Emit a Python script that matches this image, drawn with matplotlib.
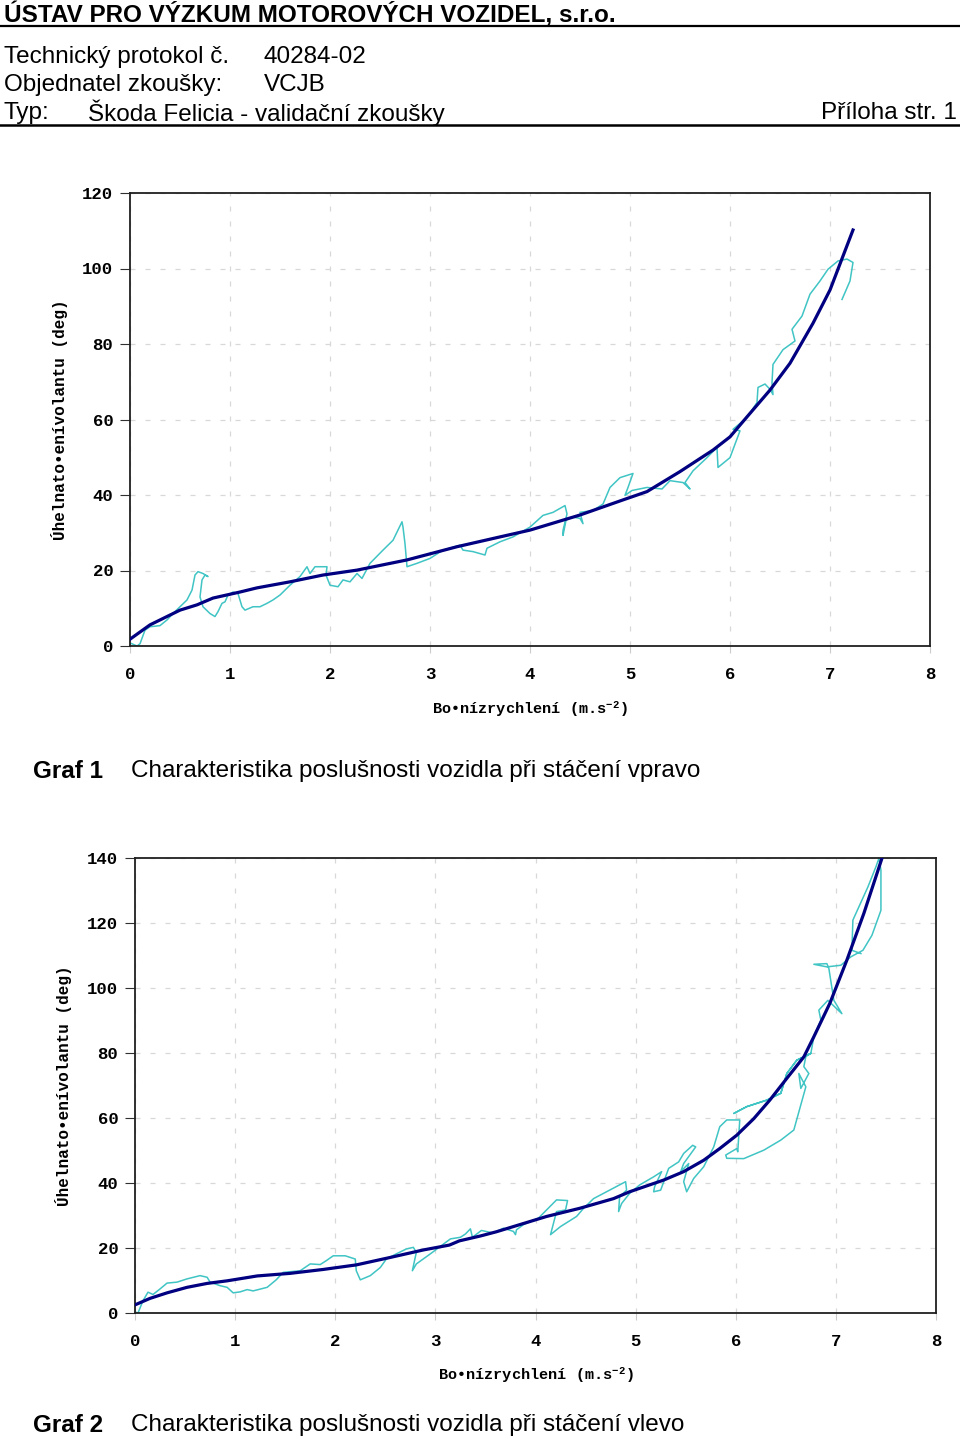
import numpy as np
import matplotlib.pyplot as plt
from matplotlib.lines import Line2D

# --- Graf 1 (vpravo): fitted curve
fit1_x = [0.0, 0.2, 0.5, 0.67, 0.83, 1.1, 1.27, 1.6, 1.93, 2.27, 2.77, 3.27, 3.7, 4.0, 4.5,
          4.93, 5.17, 5.5, 5.83, 6.0, 6.17, 6.4, 6.6, 6.83, 7.0, 7.23]
fit1_y = [1.8, 5.6, 9.5, 10.9, 12.7, 14.3, 15.4, 17.0, 18.8, 20.1, 22.8, 26.3, 28.9, 30.7, 34.7,
          38.7, 40.9, 46.2, 51.9, 55.4, 60.7, 67.8, 74.9, 85.5, 94.3, 110.2]

# --- Graf 1: measured
meas1_x = [0.01, 0.07, 0.1, 0.15, 0.2, 0.3, 0.37, 0.43, 0.5, 0.57, 0.62, 0.65, 0.68, 0.73, 0.78,
           0.75, 0.72, 0.70, 0.73, 0.8, 0.85, 0.88, 0.92, 0.95, 0.98, 1.03, 1.08, 1.12, 1.15,
           1.23, 1.3, 1.37, 1.43, 1.5, 1.6, 1.7, 1.77, 1.8, 1.85, 1.93, 1.97, 1.96, 2.0, 2.08,
           2.13, 2.2, 2.27, 2.32, 2.4, 2.53, 2.63, 2.72, 2.73, 2.75, 2.77, 2.87, 3.0, 3.13, 3.3,
           3.33, 3.43, 3.55, 3.57, 3.7, 3.83, 4.0, 4.13, 4.23, 4.35, 4.37, 4.33, 4.33, 4.36,
           4.42, 4.5, 4.53, 4.5, 4.63, 4.73, 4.8, 4.9, 5.03, 4.98, 4.95, 5.02, 5.17, 5.32, 5.4,
           5.53, 5.6, 5.55, 5.63, 5.77, 5.87, 5.88, 6.0, 6.1, 6.03, 6.17, 6.27, 6.28, 6.35, 6.4,
           6.43, 6.42, 6.43, 6.53, 6.65, 6.62, 6.72, 6.8, 6.9, 6.98, 7.08, 7.17, 7.23, 7.2, 7.12]
meas1_y = [0.7, 0.0, 0.6, 4.2, 5.1, 5.4, 6.9, 8.6, 10.4, 12.2, 14.8, 18.8, 19.7, 19.2, 18.4,
           18.8, 17.5, 13.0, 10.4, 8.6, 7.8, 9.1, 11.3, 11.7, 13.5, 14.3, 13.9, 10.4, 9.5,
           10.4, 10.4, 11.3, 12.2, 13.5, 16.1, 18.4, 21.0, 19.2, 21.0, 21.0, 21.0, 18.8, 16.1, 15.7,
           17.5, 17.0, 19.2, 17.9, 21.9, 25.4, 28.0, 32.9, 31.5, 27.1, 21.0, 21.9, 23.2, 25.4, 26.7,
           25.4, 25.0, 24.1, 25.9, 27.6, 28.9, 31.5, 34.6, 35.4, 37.2, 35.0, 30.6, 29.3, 33.3,
           34.2, 33.8, 32.4, 35.4, 35.9, 37.6, 42.0, 44.6, 45.7, 42.0, 39.9, 41.2, 42.0, 41.6, 43.8,
           43.3, 41.6, 43.3, 46.4, 49.9, 52.6, 47.3, 49.9, 57.0, 57.4, 60.5, 64.5, 68.5, 69.4, 68.0,
           66.6, 69.7, 74.6, 78.5, 80.8, 83.9, 87.4, 93.2, 96.7, 99.8, 102.0, 102.5, 101.6, 96.7, 91.8]

# --- Graf 2 (vlevo): fitted curve
fit2_x = [0.0, 0.15, 0.32, 0.52, 0.72, 0.92, 1.22, 1.55, 1.88, 2.21, 2.55, 2.88, 3.14, 3.24,
          3.45, 3.61, 3.78, 4.11, 4.44, 4.78, 4.94, 5.28, 5.48, 5.68, 5.84, 6.01, 6.18, 6.34,
          6.51, 6.68, 6.78, 6.94, 7.11, 7.28, 7.46]
fit2_y = [2.5, 4.5, 6.2, 7.9, 9.1, 9.9, 11.4, 12.2, 13.4, 14.8, 17.1, 19.4, 20.9, 22.2,
          23.7, 25.0, 26.6, 29.7, 32.2, 35.2, 37.3, 40.9, 43.5, 47.0, 50.6, 54.7, 59.8, 65.5,
          72.2, 78.8, 85.0, 95.3, 108.6, 123.0, 139.9]

# --- Graf 2: measured
meas2_x = [0.0, 0.03, 0.08, 0.13, 0.18, 0.25, 0.32, 0.42, 0.52, 0.65, 0.72, 0.75, 0.85, 0.92,
           0.98, 1.05, 1.12, 1.18, 1.32, 1.41, 1.48, 1.65, 1.75, 1.85, 1.91, 1.98, 2.1, 2.2, 2.21,
           2.25, 2.35, 2.45, 2.51, 2.61, 2.71, 2.78, 2.81, 2.77, 2.81, 2.95, 3.08, 3.15, 3.25, 3.3,
           3.35, 3.37, 3.46, 3.58, 3.68, 3.78, 3.8, 3.81, 3.88, 4.03, 4.21, 4.32, 4.3, 4.21, 4.15,
           4.25, 4.41, 4.48, 4.58, 4.71, 4.9, 4.91, 4.84, 4.83, 4.86, 4.94, 5.04, 5.18, 5.26, 5.19,
           5.18, 5.25, 5.33, 5.43, 5.48, 5.57, 5.6, 5.48, 5.45, 5.53, 5.48, 5.51, 5.58, 5.68, 5.78,
           5.84, 5.91, 6.04, 6.02, 6.01, 5.9, 5.91, 6.08, 6.28, 6.45, 6.58, 6.7, 6.63, 6.65, 6.73,
           6.68, 6.7, 6.75, 6.61, 6.51, 6.45, 6.31, 6.11, 5.98, 6.11, 6.31, 6.45, 6.51, 6.61, 6.75,
           6.78, 6.85, 6.83, 6.92, 7.06, 6.98, 6.93, 6.91, 6.78, 6.91, 7.05, 7.15, 7.27, 7.36,
           7.45, 7.45, 7.43, 7.40, 7.32, 7.17, 7.16, 7.25]
meas2_y = [0.3, 0.0, 3.8, 6.4, 5.7, 7.4, 9.2, 9.5, 10.5, 11.5, 11.0, 9.5, 8.4, 7.9,
           6.2, 6.5, 7.2, 6.8, 7.9, 10.2, 12.5, 13.0, 15.1, 14.9, 16.1, 17.6, 17.6, 16.6, 13.0,
           10.2, 11.5, 14.0, 16.6, 18.2, 19.7, 20.2, 18.7, 13.0, 15.1, 18.2, 21.2, 22.8, 23.3, 24.3,
           25.9, 23.3, 25.4, 24.6, 26.1, 25.1, 24.1, 25.6, 27.2, 29.2, 34.8, 34.6, 31.7, 31.2, 24.1,
           26.6, 29.7, 32.2, 35.2, 37.3, 40.4, 37.8, 35.8, 31.2, 33.7, 36.8, 39.4, 41.9, 43.5, 38.9,
           37.3, 37.8, 44.5, 46.5, 49.1, 51.6, 51.1, 46.0, 43.5, 46.0, 40.4, 37.3, 41.4, 45.0, 51.1,
           57.3, 59.4, 59.4, 49.6, 50.6, 48.6, 47.6, 47.5, 50.1, 53.2, 56.3, 69.6, 73.7, 69.1, 73.7,
           75.8, 78.9, 79.9, 77.8, 73.7, 67.6, 65.5, 63.5, 61.4, 63.5, 65.5, 67.6, 73.7, 77.8, 79.9,
           85.0, 90.1, 93.2, 96.2, 92.1, 96.2, 106.0, 107.5, 107.3, 106.5, 107.0, 109.6, 111.6, 116.2,
           123.9, 136.3, 139.9, 137.3, 131.1, 120.9, 111.6, 110.6]

W, H = 960, 1442
MONO = 'Liberation Mono'
SANS = 'Liberation Sans'
plt.rcParams['mathtext.default'] = 'regular'

fig = plt.figure(figsize=(W / 100, H / 100), dpi=100)


def px(x, y):
    return x / W, 1 - y / H


def hline(y, lw):
    fig.add_artist(Line2D([0, 1], [1 - y / H, 1 - y / H], color='black', lw=lw))


def chart(rect, fx, fy, mx, my, ymax, xlab_y, ylab_x):
    ax = fig.add_axes(rect)
    ax.plot(mx, my, color='#40c4c4', lw=1.1, zorder=2)
    ax.plot(fx, fy, color='#000080', lw=2.3, zorder=3)
    ax.set_xlim(0, 8)
    ax.set_ylim(0, ymax)
    ax.set_xticks(range(0, 9))
    ax.set_yticks(range(0, ymax + 1, 20))
    ax.grid(True, color='#d8d8d8', ls=(0, (4, 8)), lw=0.9)
    for s in ax.spines.values():
        s.set_linewidth(1.3)
        s.set_color('#202020')
    ax.tick_params(axis='x', length=5, color='#cccccc', pad=10)
    ax.tick_params(axis='y', length=7, color='#303030', pad=5)
    for lab in ax.get_xticklabels() + ax.get_yticklabels():
        lab.set_fontfamily(MONO)
        lab.set_fontweight('bold')
        lab.set_fontsize(12.5)
    ax.set_ylabel('Úhelnato•enívolantu (deg)', fontfamily=MONO, fontweight='bold',
                  fontsize=11.5)
    ax.yaxis.set_label_coords(ylab_x, 0.5)
    ax.set_xlabel('Bo•nízrychlení (m.s$^{-2}$)', fontfamily=MONO, fontweight='bold',
                  fontsize=11)
    ax.xaxis.set_label_coords(0.5, xlab_y)
    return ax


# header
fig.text(*px(4, 15), 'ÚSTAV PRO VÝZKUM MOTOROVÝCH VOZIDEL, s.r.o.', fontfamily=SANS,
         fontweight='bold', fontsize=17.5, va='center')
hline(26, 1.6)
fig.text(*px(4, 57), 'Technický protokol č.', fontfamily=SANS, fontsize=17.5, va='center')
fig.text(*px(264, 57), '40284-02', fontfamily=SANS, fontsize=17.5, va='center')
fig.text(*px(4, 85), 'Objednatel zkoušky:', fontfamily=SANS, fontsize=17.5, va='center')
fig.text(*px(264, 85), 'VCJB', fontfamily=SANS, fontsize=17.5, va='center')
fig.text(*px(4, 113), 'Typ:', fontfamily=SANS, fontsize=17.5, va='center')
fig.text(*px(88, 113), 'Škoda Felicia - validační zkoušky', fontfamily=SANS, fontsize=17.5,
         va='center')
fig.text(*px(957, 113), 'Příloha str. 1', fontfamily=SANS, fontsize=17.5, va='center', ha='right')
hline(125, 1.8)

chart([130 / W, 1 - 646 / H, 800 / W, 453 / H], fit1_x, fit1_y, meas1_x, meas1_y, 120,
      -0.118, -0.077)
chart([135 / W, 1 - 1313 / H, 801 / W, 455 / H], fit2_x, fit2_y, meas2_x, meas2_y, 140,
      -0.116, -0.079)

fig.text(*px(33, 771), 'Graf 1', fontfamily=SANS, fontweight='bold', fontsize=17.5, va='center')
fig.text(*px(131, 771), 'Charakteristika poslušnosti vozidla při stáčení vpravo',
         fontfamily=SANS, fontsize=17.5, va='center')
fig.text(*px(33, 1425), 'Graf 2', fontfamily=SANS, fontweight='bold', fontsize=17.5, va='center')
fig.text(*px(131, 1425), 'Charakteristika poslušnosti vozidla při stáčení vlevo',
         fontfamily=SANS, fontsize=17.5, va='center')

fig.savefig('out.png', dpi=100)
